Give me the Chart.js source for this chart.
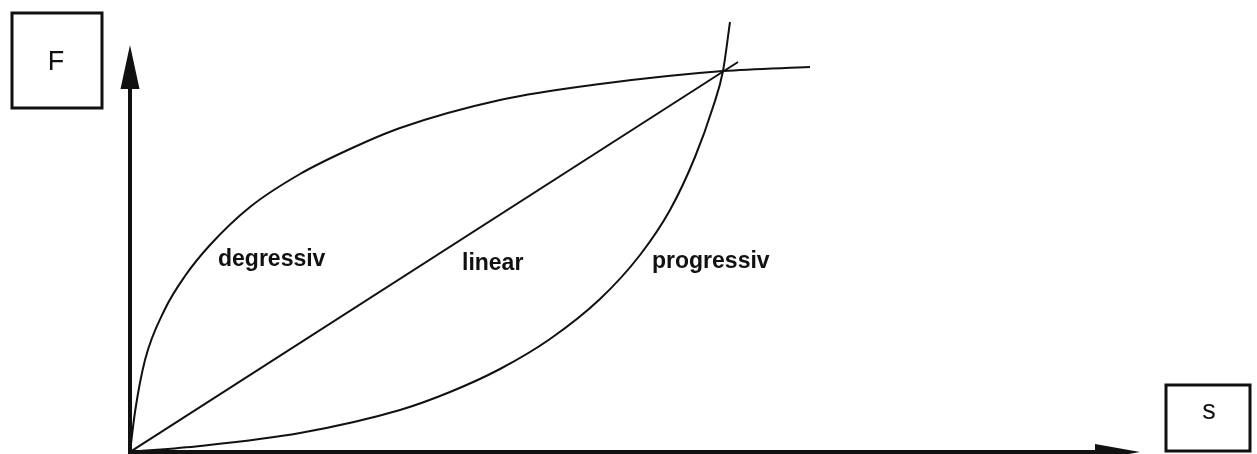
<!DOCTYPE html>
<html>
<head>
<meta charset="utf-8">
<script src="https://cdn.jsdelivr.net/npm/chart.js@4"></script>
<style>
  html, body { margin: 0; padding: 0; background: #fff; }
  #wrap { width: 1257px; height: 454px; position: relative; }
</style>
</head>
<body>
<div id="wrap"><canvas id="graph"></canvas></div>
<script>
// Weg s (x) und Kraft F (y)
const degressivS = [0, 5, 15, 35, 55, 80, 120, 170, 220, 270, 370, 470, 593, 680];
const degressivF = [0, 40, 92, 143, 176, 207, 245, 278, 303, 324, 352, 368, 381, 385];

const linearS = [0, 608];
const linearF = [0, 390];

const progressivS = [0, 70, 170, 270, 320, 370, 420, 470, 510, 540, 565, 583, 593, 600];
const progressivF = [0, 6, 19, 42, 60, 83, 113, 153, 197, 242, 295, 345, 381, 430];

const curveNames = ['degressiv', 'linear', 'progressiv'];
const labelS = [88, 332, 522];
const labelF = [186, 182, 184];

const axisMaxS = 1010;
const axisMaxF = 407;

const toPoints = (xs, ys) => xs.map((x, i) => ({ x: x, y: ys[i] }));

const ink = '#111';

const axesPlugin = {
  id: 'axes',
  afterDatasetsDraw(chart) {
    const ctx = chart.ctx;
    const xs = chart.scales.x, ys = chart.scales.y;
    const x0 = xs.getPixelForValue(0), y0 = ys.getPixelForValue(0);
    const xEnd = xs.getPixelForValue(axisMaxS), yEnd = ys.getPixelForValue(axisMaxF);

    ctx.save();
    ctx.fillStyle = ink;
    ctx.strokeStyle = ink;

    // y axis + arrow
    ctx.lineWidth = 4;
    ctx.beginPath();
    ctx.moveTo(x0, y0 + 2);
    ctx.lineTo(x0, yEnd + 40);
    ctx.stroke();
    ctx.beginPath();
    ctx.moveTo(x0, yEnd);
    ctx.lineTo(x0 - 9.5, yEnd + 44);
    ctx.lineTo(x0 + 9.5, yEnd + 44);
    ctx.closePath();
    ctx.fill();

    // x axis + arrow
    ctx.beginPath();
    ctx.moveTo(x0 - 2, y0);
    ctx.lineTo(xEnd - 40, y0);
    ctx.stroke();
    ctx.beginPath();
    ctx.moveTo(xEnd, y0);
    ctx.lineTo(xEnd - 45, y0 - 8);
    ctx.lineTo(xEnd - 45, y0 + 8);
    ctx.closePath();
    ctx.fill();

    // boxes with axis names
    ctx.lineWidth = 3;
    ctx.strokeRect(x0 - 118, 13, 90, 95);
    ctx.strokeRect(xEnd + 26, 385, 84, 66);
    ctx.font = '27px "Liberation Sans", Arial, sans-serif';
    ctx.textAlign = 'center';
    ctx.textBaseline = 'middle';
    ctx.fillText('F', x0 - 74, 63);
    ctx.fillText('s', xEnd + 69, 412);

    // curve labels
    ctx.font = 'bold 23px "Liberation Sans", Arial, sans-serif';
    ctx.textAlign = 'left';
    ctx.textBaseline = 'alphabetic';
    curveNames.forEach((name, i) => {
      ctx.fillText(name, xs.getPixelForValue(labelS[i]), ys.getPixelForValue(labelF[i]));
    });
    ctx.restore();
  }
};

const line = (label, pts) => ({
  label: label,
  data: pts,
  showLine: true,
  borderColor: ink,
  borderWidth: 2,
  pointRadius: 0,
  cubicInterpolationMode: 'monotone',
  fill: false
});

new Chart(document.querySelector('#graph').getContext('2d'), {
  type: 'scatter',
  data: {
    datasets: [
      line('degressiv', toPoints(degressivS, degressivF)),
      line('linear', toPoints(linearS, linearF)),
      line('progressiv', toPoints(progressivS, progressivF))
    ]
  },
  options: {
    responsive: true,
    maintainAspectRatio: false,
    animation: false,
    layout: { padding: { left: 130, right: 117, top: 20, bottom: 2 } },
    scales: {
      x: { type: 'linear', display: false, min: 0, max: axisMaxS },
      y: { type: 'linear', display: false, min: 0, max: axisMaxF + 25 }
    },
    plugins: {
      legend: { display: false },
      tooltip: { enabled: false }
    }
  },
  plugins: [axesPlugin]
});
</script>
</body>
</html>
